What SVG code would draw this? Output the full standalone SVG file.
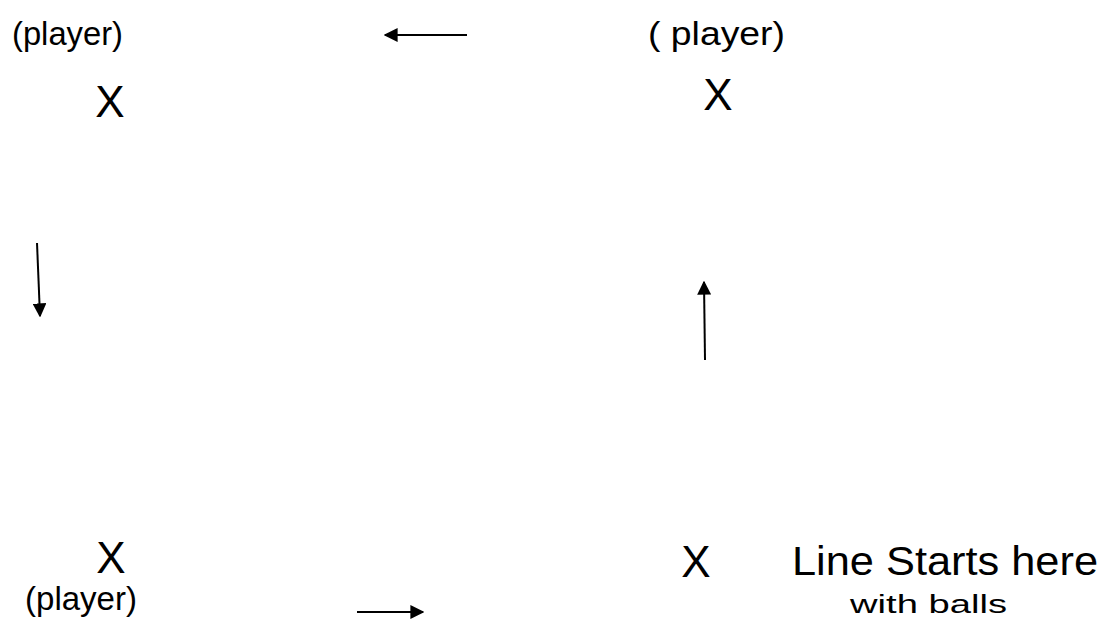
<svg xmlns="http://www.w3.org/2000/svg" width="1104" height="628" viewBox="0 0 1104 628">
<style>
.lbl{font-family:"Liberation Sans",Arial,sans-serif;fill:#000}
.mark{font-family:"Liberation Sans",Arial,sans-serif;font-size:44px;fill:#000;text-anchor:middle}
.conn{stroke:#000;stroke-width:2;fill:none;marker-end:url(#ah)}
</style>
<defs>
<marker id="ah" viewBox="0 0 10 10" refX="9" refY="5" markerWidth="7" markerHeight="7" markerUnits="strokeWidth" orient="auto">
<path d="M0,0 L10,5 L0,10 z" fill="#000"/>
</marker>
</defs>
<rect width="1104" height="628" fill="#fff"/>
<g id="player-top-left">
<text class="lbl" x="12" y="45" font-size="34" textLength="111" lengthAdjust="spacingAndGlyphs">(player)</text>
<text class="mark" x="110" y="117">X</text>
</g>
<g id="player-top-right">
<text class="lbl" x="648" y="45" font-size="34" textLength="137" lengthAdjust="spacingAndGlyphs">( player)</text>
<text class="mark" x="718" y="110">X</text>
</g>
<g id="player-bottom-left">
<text class="mark" x="111" y="573">X</text>
<text class="lbl" x="25" y="610" font-size="34" textLength="112" lengthAdjust="spacingAndGlyphs">(player)</text>
</g>
<g id="start-bottom-right">
<text class="mark" x="696" y="577">X</text>
<text class="lbl" x="792" y="575" font-size="40" textLength="306" lengthAdjust="spacingAndGlyphs">Line Starts here</text>
<text class="lbl" x="850" y="613" font-size="25" textLength="157" lengthAdjust="spacingAndGlyphs">with balls</text>
</g>
<g id="connectors">
<line class="conn" x1="467" y1="35" x2="385" y2="35"/>
<line class="conn" x1="37" y1="243" x2="40" y2="316"/>
<line class="conn" x1="705" y1="360" x2="704" y2="282"/>
<line class="conn" x1="357" y1="612" x2="423" y2="612"/>
</g>
</svg>
